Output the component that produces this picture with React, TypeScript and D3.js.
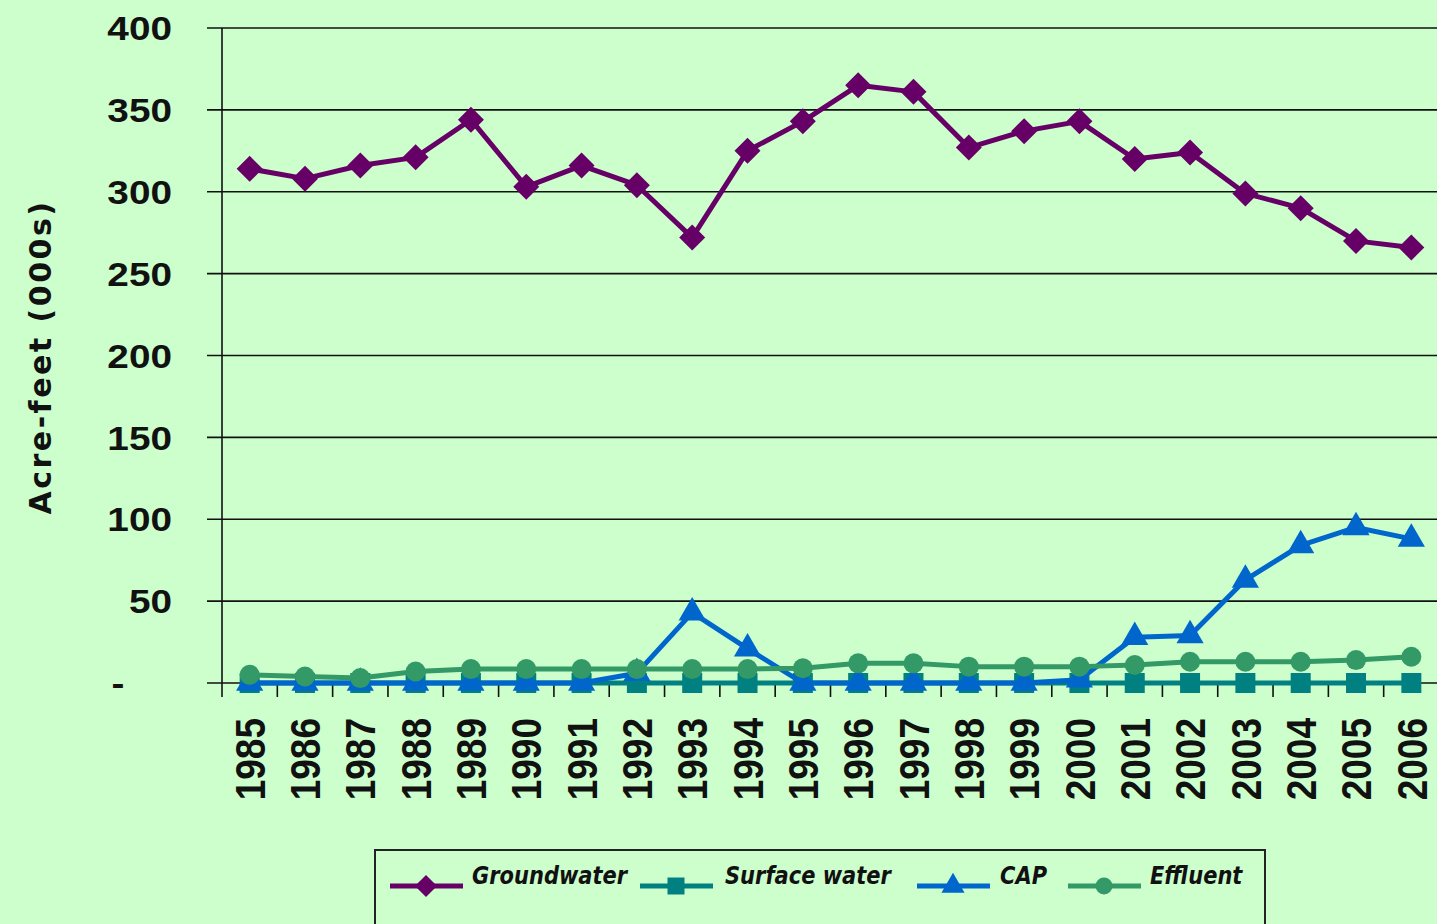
import * as d3 from "d3";

const years = ["1985","1986","1987","1988","1989","1990","1991","1992","1993","1994","1995","1996","1997","1998","1999","2000","2001","2002","2003","2004","2005","2006"];
const groundwater = [314, 308, 316, 321, 344, 303, 316, 304, 272, 325, 343, 365, 361, 327, 337, 343, 320, 324, 299, 290, 270, 266];
const surfaceWater = [0, 0, 0, 0, 0, 0, 0, 0, 0, 0, 0, 0, 0, 0, 0, 0, 0, 0, 0, 0, 0, 0];
const cap = [0, 0, 0, 0, 0, 0, 0, 6, 43, 21, 0, 0, 0, 0, 0, 2, 28, 29, 63, 84, 95, 88];
const effluent = [5, 4, 3, 7, 8.5, 8.5, 8.5, 8.5, 8.5, 8.5, 9, 12, 12, 10, 10, 10, 11, 13, 13, 13, 14, 16];
const yTicks = [0, 50, 100, 150, 200, 250, 300, 350, 400];

const series = [
  { name: "Groundwater", values: groundwater, color: "#660066", marker: "diamond" },
  { name: "Surface water", values: surfaceWater, color: "#008080", marker: "square" },
  { name: "CAP", values: cap, color: "#0066cc", marker: "triangle" },
  { name: "Effluent", values: effluent, color: "#339966", marker: "circle" },
];

const W = 1437;
const H = 924;
const left = 222;
const top = 28;
const bottom = 683;

const Marker = ({ type, x, y, color, k = 1 }: { type: string; x: number; y: number; color: string; k?: number }) => {
  if (type === "diamond") {
    const s = 13 * k;
    return <path d={`M${x},${y - s}L${x + s},${y}L${x},${y + s}L${x - s},${y}Z`} fill={color} />;
  }
  if (type === "square") {
    const s = 10 * k;
    return <rect x={x - s} y={y - s} width={2 * s} height={2 * s} fill={color} />;
  }
  if (type === "triangle") {
    const p = d3.symbol().type(d3.symbolTriangle).size(320 * k * k)();
    return <path d={p || ""} transform={`translate(${x},${y})`} fill={color} />;
  }
  return <circle cx={x} cy={y} r={10 * k} fill={color} />;
};

export default function App() {
  const x = d3.scaleBand<string>().domain(years).range([left, 1439]).padding(0);
  const y = d3.scaleLinear().domain([0, 400]).range([bottom, top]);
  const cx = (d: string) => (x(d) as number) + x.bandwidth() / 2;
  const line = d3.line<number>().x((_, i) => cx(years[i])).y((d) => y(d));

  const legendItems = [
    { lx: 390, tx: 472 },
    { lx: 640, tx: 725 },
    { lx: 917, tx: 1000 },
    { lx: 1068, tx: 1150 },
  ];

  return (
    <svg width={W} height={H} style={{ position: "absolute", left: 0, top: 0 }}>
      <rect x={0} y={0} width={W} height={H} fill="#ccffcc" />

      {/* gridlines and y ticks */}
      {yTicks.map((t) => (
        <line key={t} x1={207} x2={W} y1={y(t)} y2={y(t)} stroke="#111" strokeWidth={1.6} />
      ))}
      <line x1={left} x2={left} y1={top} y2={bottom + 14} stroke="#111" strokeWidth={1.6} />
      {years.map((d, i) =>
        i === 0 ? null : (
          <line key={d} x1={x(d)} x2={x(d)} y1={bottom} y2={bottom + 14} stroke="#111" strokeWidth={1.6} />
        )
      )}

      {/* y labels */}
      {yTicks.map((t) => (
        <text
          key={t}
          transform={`translate(${t === 0 ? 118 : 172},${y(t)}) scale(1.14,1)`}
          textAnchor={t === 0 ? "middle" : "end"}
          dy="0.36em"
          fontFamily="Liberation Sans, Arial, sans-serif"
          fontWeight="bold"
          fontSize={34}
          fill="#111"
        >
          {t === 0 ? "-" : t}
        </text>
      ))}

      {/* x labels */}
      {years.map((d) => (
        <text
          key={d}
          transform={`translate(${cx(d)},718) scale(1.14,1) rotate(-90)`}
          textAnchor="end"
          dy="0.36em"
          fontFamily="Liberation Sans, Arial, sans-serif"
          fontWeight="bold"
          fontSize={37}
          fill="#111"
        >
          {d}
        </text>
      ))}

      {/* axis title */}
      <text
        transform={`translate(40,357) rotate(-90)`}
        textAnchor="middle"
        dy="0.36em"
        fontFamily="DejaVu Sans, sans-serif"
        fontWeight="bold"
        fontSize={30}
        letterSpacing={2.5}
        fill="#111"
      >
        Acre-feet (000s)
      </text>

      {/* series */}
      {series.map((s) => (
        <g key={s.name}>
          <path d={line(s.values) || ""} fill="none" stroke={s.color} strokeWidth={5} strokeLinejoin="round" />
          {s.values.map((v, i) => (
            <Marker key={i} type={s.marker} x={cx(years[i])} y={y(v)} color={s.color} />
          ))}
        </g>
      ))}

      {/* legend */}
      <rect x={375} y={850} width={890} height={100} fill="#ccffcc" stroke="#222" strokeWidth={2} />
      {series.map((s, i) => {
        const it = legendItems[i];
        const ly = 886;
        return (
          <g key={s.name}>
            <line x1={it.lx} x2={it.lx + 73} y1={ly} y2={ly} stroke={s.color} strokeWidth={5} />
            <Marker type={s.marker} x={it.lx + 36} y={ly} color={s.color} k={0.85} />
            <text
              transform={`translate(${it.tx},${ly - 2}) scale(0.84,1)`}
              fontFamily="DejaVu Sans, sans-serif"
              fontWeight="bold"
              fontStyle="italic"
              fontSize={25}
              fill="#111"
            >
              {s.name}
            </text>
          </g>
        );
      })}
    </svg>
  );
}
